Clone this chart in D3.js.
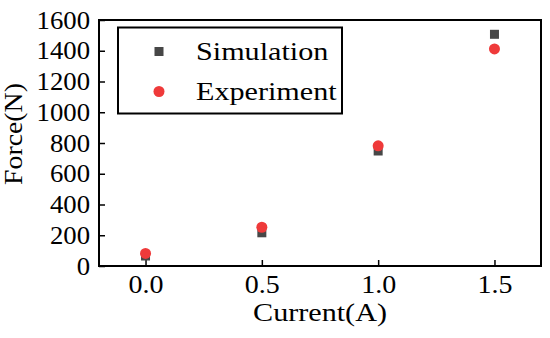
<!DOCTYPE html>
<html>
<head>
<meta charset="utf-8">
<script src="https://cdn.jsdelivr.net/npm/d3@7"></script>
<style>
  body { margin: 0; background: #fff; }
</style>
</head>
<body>
<div id="chart"></div>
<script>
// values
let current = [0.0, 0.5, 1.0, 1.5];
let simulation = [65, 216, 748, 1507];
let experiment = [82, 252, 782, 1412];
let xTicks = [0.0, 0.5, 1.0, 1.5];
let yTicks = [0, 200, 400, 600, 800, 1000, 1200, 1400, 1600];

let width = 550;
let height = 338;
let margin = ({ top: 20, right: 9, bottom: 72, left: 99 });
let font = "'Liberation Serif', 'DejaVu Serif', serif";
// the original face is wider than Times, stretch text a bit
let stretch = 1.16;
let tickStretch = 1.07;

let x = d3.scaleLinear()
    .domain([-0.2, 1.7])
    .range([margin.left, width - margin.right]);

let y = d3.scaleLinear()
    .domain([0, 1600])
    .range([height - margin.bottom, margin.top]);

let svg = d3.select("#chart")
    .append("svg")
    .attr("width", width)
    .attr("height", height)
    .attr("viewBox", [0, 0, width, height]);

let xAxis = g => g
    .attr("transform", `translate(0,${height - margin.bottom})`)
    .call(d3.axisBottom(x).tickValues(xTicks).tickFormat(d3.format(".1f"))
        .tickSizeInner(-6).tickSizeOuter(0).tickPadding(9))
    .call(g => g.select(".domain").remove())
    .call(g => g.selectAll(".tick line").attr("stroke", "#000").attr("stroke-width", 1.5))
    .call(g => g.selectAll(".tick text")
        .attr("font-family", font).attr("font-size", 25).attr("fill", "#000")
        .attr("transform", `scale(${tickStretch + 0.05},1)`));

let yAxis = g => g
    .attr("transform", `translate(${margin.left},0)`)
    .call(d3.axisLeft(y).tickValues(yTicks).tickFormat(d3.format("d"))
        .tickSizeInner(-6).tickSizeOuter(0))
    .call(g => g.select(".domain").remove())
    .call(g => g.selectAll(".tick line").attr("stroke", "#000").attr("stroke-width", 1.5))
    .call(g => g.selectAll(".tick text")
        .attr("font-family", font).attr("font-size", 25).attr("fill", "#000")
        .attr("x", 0)
        .attr("transform", `translate(-9,0) scale(${tickStretch},1)`));

svg.append("g").call(xAxis);
svg.append("g").call(yAxis);

// frame
svg.append("rect")
    .attr("x", margin.left)
    .attr("y", margin.top)
    .attr("width", width - margin.left - margin.right)
    .attr("height", height - margin.top - margin.bottom)
    .attr("fill", "none")
    .attr("stroke", "#000")
    .attr("stroke-width", 2);

let simColor = "#474747";
let expColor = "#ef3a3a";

svg.append("g")
    .attr("fill", simColor)
    .selectAll("rect")
    .data(current)
    .join("rect")
    .attr("x", (d, i) => x(d) - 4.5)
    .attr("y", (d, i) => y(simulation[i]) - 4.5)
    .attr("width", 9)
    .attr("height", 9);

svg.append("g")
    .attr("fill", expColor)
    .selectAll("circle")
    .data(current)
    .join("circle")
    .attr("cx", d => x(d))
    .attr("cy", (d, i) => y(experiment[i]))
    .attr("r", 5.5);

function label(sel, tx, ty, rot, anchor, k) {
    return sel.append("text")
        .attr("transform", `translate(${tx},${ty}) rotate(${rot}) scale(${k},1)`)
        .attr("text-anchor", anchor)
        .attr("font-family", font)
        .attr("font-size", 26)
        .attr("fill", "#000");
}

// axis titles
label(svg, (margin.left + width - margin.right) / 2, 321, 0, "middle", stretch).text("Current(A)");
label(svg, 22, 134, -90, "middle", 1.07).text("Force(N)");

// legend
let legend = svg.append("g");
legend.append("rect")
    .attr("x", 118)
    .attr("y", 27.5)
    .attr("width", 224)
    .attr("height", 86)
    .attr("fill", "#fff")
    .attr("stroke", "#000")
    .attr("stroke-width", 2);

legend.append("rect")
    .attr("x", 159 - 4.5)
    .attr("y", 51.5 - 4.5)
    .attr("width", 9)
    .attr("height", 9)
    .attr("fill", simColor);

legend.append("circle")
    .attr("cx", 159)
    .attr("cy", 91.5)
    .attr("r", 5.5)
    .attr("fill", expColor);

label(legend, 196, 60, 0, "start", stretch).text("Simulation");
label(legend, 196, 100, 0, "start", stretch).text("Experiment");
</script>
</body>
</html>
